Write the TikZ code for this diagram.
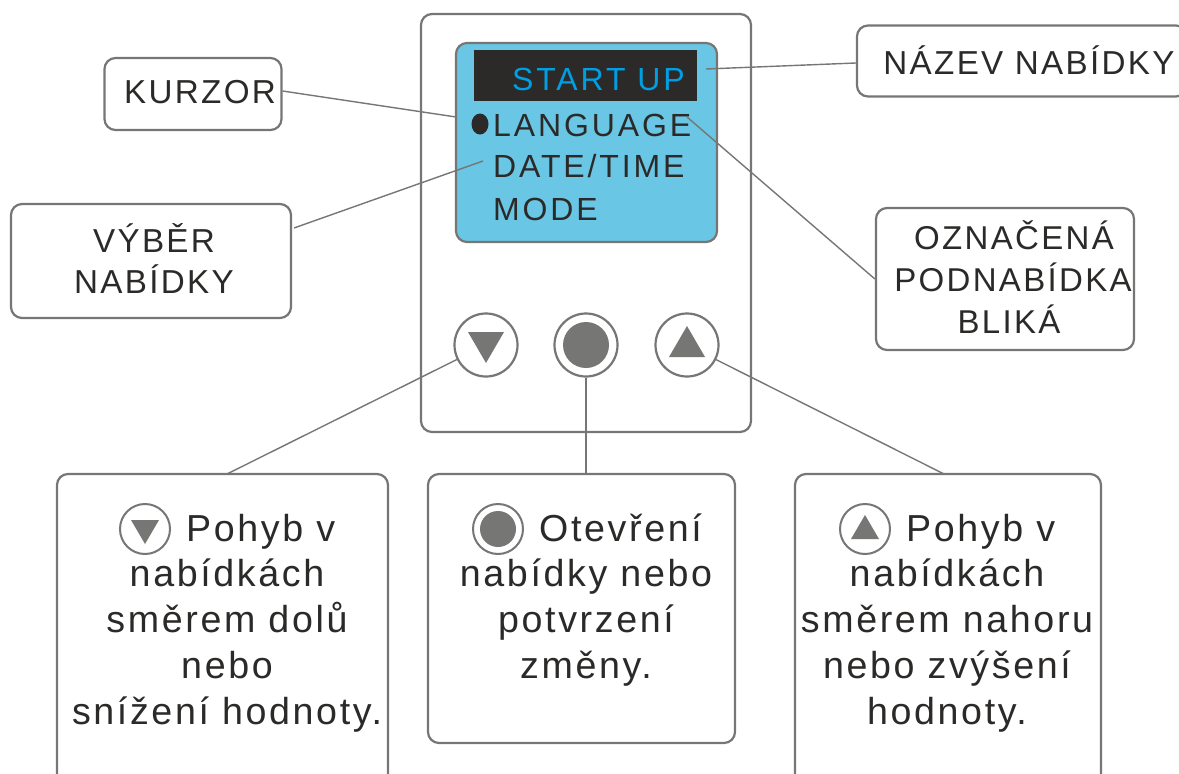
\documentclass[tikz,border=0pt]{standalone}
\usepackage{fontspec}
\setmainfont{Liberation Sans}
\newfontfamily\lcdfont[LetterSpace=9]{Liberation Sans}
\newfontfamily\boxfont[LetterSpace=7]{Liberation Sans}
\definecolor{framegray}{HTML}{767675}
\definecolor{lcdblue}{HTML}{69C6E4}
\definecolor{inkblack}{HTML}{2B2A29}
\definecolor{titleblue}{HTML}{009FE3}
\tikzset{
  panel/.style={draw=framegray, line width=2.2pt, rounded corners=11pt, fill=white},
  infobox/.style={panel, rectangle, inner sep=0pt},
  leader/.style={framegray, line width=1.4pt},
  btn/.style={circle, draw=framegray, line width=2.2pt, fill=white, minimum size=63pt, inner sep=0pt},
  smallbtn/.style={circle, draw=framegray, line width=2pt, fill=white, minimum size=50pt, inner sep=0pt},
  lcdtext/.style={inkblack, inner sep=0pt, anchor=base west, font=\fontsize{32}{32}\lcdfont},
  boxtext/.style={inkblack, inner sep=0pt, align=center, font=\fontsize{37.6}{46}\boxfont},
  headtext/.style={inkblack, inner sep=0pt, font=\fontsize{33.2}{41}\boxfont, align=center}
}
\begin{document}
\begin{tikzpicture}[x=1pt, y=-1pt]
      \useasboundingbox (0,0) rectangle (1179,774);
      \clip (0,0) rectangle (1179,774);

      \draw[panel] (421,14) rectangle (751,432);
      \draw[panel, fill=lcdblue] (456,43) rectangle (717,242);
      \fill[inkblack] (474,50) rectangle (697,101);

      \node[lcdtext, text=titleblue] (starttext) at (512,90) {START UP};
      \node[lcdtext] (langtext) at (493,136) {LANGUAGE};
      \node[lcdtext] (datetext) at (493,177) {DATE/TIME};
      \node[lcdtext] (modetext) at (493,220) {MODE};
      \fill[inkblack] (480,124) ellipse (8.5 and 10.5);

      % buttons
      \node[btn] (downbtn) at (486,345) {};
      \node[btn] (okbtn) at (586,345) {};
      \node[btn] (upbtn) at (687,345) {};
      \fill[framegray] (468,332) -- (504,332) -- (486,363) -- cycle;
      \fill[framegray] (586,345) circle (23);
      \fill[framegray] (669,357) -- (705,357) -- (687,326) -- cycle;

      % upper labels
      \node[infobox, minimum width=177pt, minimum height=72pt] (cursorbox) at (193,94) {};
      \node[headtext] (cursortext) at (200,92) {KURZOR};
      \node[infobox, minimum width=280pt, minimum height=114pt] (selectbox) at (151,261) {};
      \node[headtext] (selecttext) at (154,258) {VÝBĚR\\NABÍDKY};
      \node[infobox, minimum width=330pt, minimum height=71pt] (namebox) at (1022,61) {};
      \node[headtext] (nametext) at (1029,60) {NÁZEV NABÍDKY};
      \node[infobox, minimum width=258pt, minimum height=142pt] (flashbox) at (1005,279) {};
      \node[headtext, font=\fontsize{33}{33}\boxfont] (flashone) at (1014,235) {OZNAČENÁ};
      \node[headtext, font=\fontsize{33}{33}\boxfont] (flashtwo) at (1013,277) {PODNABÍDKA};
      \node[headtext, font=\fontsize{33}{33}\boxfont] (flashthree) at (1009,319) {BLIKÁ};

      % lower boxes
      \draw[panel] (57,474) rectangle (388,800);
      \draw[panel] (428,474) rectangle (735,743);
      \draw[panel] (795,474) rectangle (1101,800);
      \coordinate (downtop) at (227,474);
      \coordinate (oktop) at (586,474);
      \coordinate (uptop) at (944,474);

      \node[smallbtn] (downsmall) at (145,529) {};
      \fill[framegray] (131,520) -- (159,520) -- (145,544) -- cycle;
      \node[boxtext, anchor=base west] (downhead) at (186,541) {Pohyb v};
      \node[boxtext, anchor=north] (downtext) at (227,559) {nabídkách\\směrem dolů\\nebo\\snížení hodnoty.};

      \node[smallbtn] (oksmall) at (498,529) {};
      \fill[framegray] (498,529) circle (18);
      \node[boxtext, anchor=base west] (okhead) at (539,541) {Otevření};
      \node[boxtext, anchor=north] (oktext) at (586,559) {nabídky nebo\\potvrzení\\změny.};

      \node[smallbtn] (upsmall) at (865,529) {};
      \fill[framegray] (851,539) -- (879,539) -- (865,515) -- cycle;
      \node[boxtext, anchor=base west] (uphead) at (906,541) {Pohyb v};
      \node[boxtext, anchor=north] (uptext) at (947,559) {nabídkách\\směrem nahoru\\nebo zvýšení\\hodnoty.};

      % leaders
      \coordinate (cursorend) at (456,117);
      \coordinate (selectend) at (483,161);
      \coordinate (nameend) at (706,69);
      \coordinate (flashend) at (687,117);
      \coordinate (selectstart) at (294,228);
      \draw[leader] ([yshift=3pt]cursorbox.east) -- (cursorend);
      \draw[leader] (selectstart) -- (selectend);
      \draw[leader] ([yshift=-2pt]namebox.west) -- (nameend);
      \draw[leader] (flashbox.west) -- (flashend);
      \draw[leader] (downbtn) -- (downtop);
      \draw[leader] (okbtn) -- (oktop);
      \draw[leader] (upbtn) -- (uptop);
    \end{tikzpicture}
\end{document}
